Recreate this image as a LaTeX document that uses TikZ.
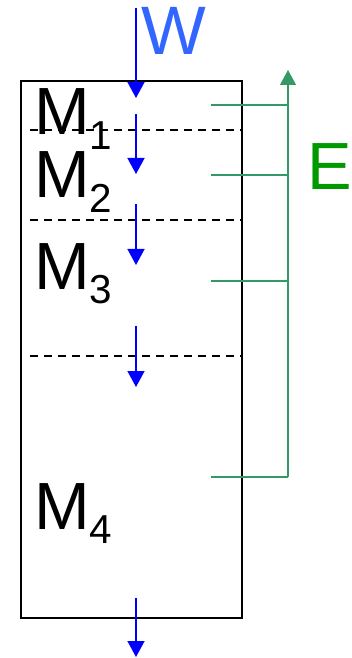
\documentclass[tikz,border=0pt]{standalone}
\usepackage{fontspec}
\setmainfont{Liberation Sans}
\usetikzlibrary{arrows.meta}
\definecolor{cFLOW}{HTML}{0000FF}
\definecolor{cWLBL}{HTML}{3366FF}
\definecolor{cTAP}{HTML}{339966}
\definecolor{cELBL}{HTML}{009900}
\tikzset{
  flow/.style={
    -{Triangle[length=3.2mm,width=3.4mm]},
    line width=0.85pt,
    draw=cFLOW
  },
  layer/.style={
    dash pattern=on 1.6mm off 1.2mm,
    line width=0.6pt
  },
  tap/.style={
    draw=cTAP,
    line width=0.7pt
  },
  biglabel/.style={
    font=\fontsize{38}{38}\selectfont,
    inner sep=0pt,
    anchor=base west
  }
}
\newcommand{\mlab}[1]{%
  M\raisebox{-8.5pt}{\fontsize{23}{23}\selectfont #1}%
}

\begin{document}
\begin{tikzpicture}[x=0.2mm, y=-0.2mm]
  \useasboundingbox (0,0) rectangle (351,658);

  % tank and layer boundaries
  \draw[line width=0.85pt] (21,81) rectangle (242,618);
  \foreach \y in {130,220,356}
    \draw[layer] (30,\y) -- (243,\y);

  \node[biglabel] (m1) at (34,135) {\mlab{1}};
  \node[biglabel] (m2) at (34,198) {\mlab{2}};
  \node[biglabel] (m3) at (34,289) {\mlab{3}};
  \node[biglabel] (m4) at (34,529) {\mlab{4}};

  % water flow
  \foreach \a/\b [count=\i] in {8/98, 114/174, 204/265, 326/387, 598/657} {
    \coordinate (w\i s) at (136,\a);
    \coordinate (w\i e) at (136,\b);
    \draw[flow] (w\i s) -- (w\i e);
  }
  \node[biglabel, text=cWLBL, font=\fontsize{39}{39}\selectfont] (wlab) at (141,55) {W};

  % collected output
  \coordinate (etop) at (288,70);
  \coordinate (ebot) at (288,477);
  \draw[tap, -{Triangle[length=3mm,width=3.2mm]}] (ebot) -- (etop);
  \foreach \y [count=\i] in {105,175,281,477} {
    \coordinate (t\i) at (211,\y);
    \draw[tap] (t\i) -- (288,\y);
  }
  \node[biglabel, text=cELBL] (elab) at (307,190) {E};
\end{tikzpicture}
\end{document}
